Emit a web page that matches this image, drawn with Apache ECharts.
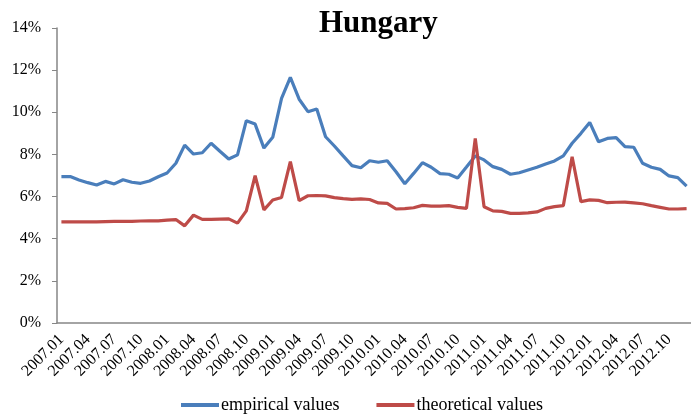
<!DOCTYPE html>
<html>
<head>
<meta charset="utf-8">
<title>Hungary</title>
<script src="https://cdn.jsdelivr.net/npm/echarts@6/dist/echarts.min.js"></script>
<style>
  html, body { margin: 0; padding: 0; background: #fff; }
  #chart { width: 691px; height: 417px; }
</style>
</head>
<body>
<div id="chart"></div>
<script>
// months 2007.01 .. 2012.12
const years = ["2007", "2008", "2009", "2010", "2011", "2012"];
const months = ["01", "02", "03", "04", "05", "06", "07", "08", "09", "10", "11", "12"];
const categories = [];
years.forEach((y) => {
  months.forEach((m) => {
    categories.push(y + "." + m);
  });
});

// values in percent
const empirical = [
  6.95, 6.95, 6.79, 6.66, 6.55, 6.72, 6.6, 6.8, 6.68, 6.63, 6.74, 6.94,
  7.12, 7.58, 8.44, 8.02, 8.08, 8.53, 8.15, 7.78, 7.98, 9.6, 9.44, 8.3,
  8.81, 10.66, 11.66, 10.62, 10.03, 10.16, 8.84, 8.4, 7.93, 7.47, 7.37, 7.7,
  7.63, 7.7, 7.18, 6.61, 7.1, 7.61, 7.39, 7.09, 7.06, 6.88, 7.4, 7.93,
  7.74, 7.42, 7.29, 7.06, 7.13, 7.26, 7.39, 7.55, 7.69, 7.93, 8.53, 9.0,
  9.52, 8.6, 8.76, 8.8, 8.37, 8.34, 7.58, 7.39, 7.29, 6.98, 6.9, 6.5
];
const theoretical = [
  4.8, 4.8, 4.8, 4.8, 4.8, 4.81, 4.82, 4.82, 4.82, 4.84, 4.85, 4.85,
  4.88, 4.91, 4.61, 5.12, 4.92, 4.92, 4.93, 4.94, 4.74, 5.32, 6.99, 5.37,
  5.84, 5.96, 7.66, 5.81, 6.04, 6.05, 6.03, 5.95, 5.9, 5.87, 5.89, 5.86,
  5.7, 5.68, 5.41, 5.43, 5.47, 5.58, 5.55, 5.55, 5.57, 5.49, 5.44, 8.76,
  5.52, 5.32, 5.3, 5.2, 5.2, 5.23, 5.27, 5.44, 5.52, 5.57, 7.89, 5.76,
  5.84, 5.82, 5.71, 5.73, 5.74, 5.7, 5.66, 5.57, 5.49, 5.41, 5.41, 5.43
];
const seriesNames = ["empirical values", "theoretical values"];
const colors = ["#4A7EBB", "#BE4B48"];

const font = "'Liberation Serif', 'Times New Roman', serif";
const axisGrey = "#868686";

const chart = echarts.init(document.getElementById("chart"));
chart.setOption({
  animation: false,
  color: colors,
  textStyle: { fontFamily: font, color: "#000" },
  title: {
    text: "Hungary",
    left: 314,
    top: 3,
    textStyle: { fontFamily: font, fontSize: 31, fontWeight: "bold", color: "#000" },
  },
  legend: {
    left: 181,
    top: 396,
    padding: 0,
    icon: "rect",
    itemWidth: 38,
    itemHeight: 4,
    itemGap: 37,
    textStyle: { fontFamily: font, fontSize: 18, color: "#000", padding: [0, 0, 0, -3] },
    data: seriesNames,
  },
  // plot runs a few pixels past the right edge, as in the picture
  grid: { left: 57, top: 28, width: 643, height: 295 },
  xAxis: {
    type: "category",
    data: categories,
    boundaryGap: true,
    axisLine: { lineStyle: { color: axisGrey, width: 1.5 } },
    axisTick: { interval: 0, length: 5, lineStyle: { color: axisGrey } },
    axisLabel: {
      interval: 2,
      rotate: 45,
      margin: 14,
      fontSize: 16,
      fontFamily: font,
      color: "#000",
    },
  },
  yAxis: {
    type: "value",
    min: 0,
    max: 14,
    interval: 2,
    axisLine: { show: true, lineStyle: { color: axisGrey, width: 1.5 } },
    axisTick: { show: true, length: 5, lineStyle: { color: axisGrey } },
    splitLine: { show: false },
    axisLabel: {
      formatter: "{value}%",
      margin: 16,
      fontSize: 16,
      fontFamily: font,
      color: "#000",
    },
  },
  series: [
    {
      name: seriesNames[0],
      type: "line",
      data: empirical,
      symbol: "none",
      lineStyle: { width: 3.2, color: colors[0] },
    },
    {
      name: seriesNames[1],
      type: "line",
      data: theoretical,
      symbol: "none",
      lineStyle: { width: 3.2, color: colors[1] },
    },
  ],
});
</script>
</body>
</html>
